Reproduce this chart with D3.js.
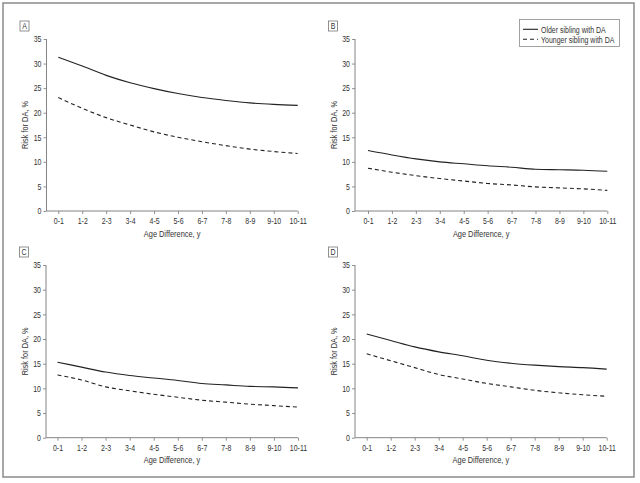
<!DOCTYPE html>
<html>
<head>
<meta charset="utf-8">
<script src="https://cdn.jsdelivr.net/npm/d3@7"></script>
<style>
  html, body { margin: 0; padding: 0; background: #fff; }
  svg { display: block; }
  text { font-family: "Liberation Sans", Arial, sans-serif; fill: #333; }
</style>
</head>
<body>
<svg id="chart" width="640" height="483"></svg>
<script>
const categories = ["0-1","1-2","2-3","3-4","4-5","5-6","6-7","7-8","8-9","9-10","10-11"];
const yTicks = [0,5,10,15,20,25,30,35];
const panelLabels = ["A","B","C","D"];
const seriesNames = ["Older sibling with DA","Younger sibling with DA"];

const olderA   = [31.3,29.5,27.6,26.1,24.9,23.9,23.1,22.5,22.0,21.7,21.5];
const youngerA = [23.1,20.9,19.0,17.5,16.1,15.0,14.1,13.3,12.6,12.1,11.7];
const olderB   = [12.3,11.4,10.6,10.0,9.6,9.2,8.9,8.5,8.4,8.3,8.1];
const youngerB = [8.7,7.9,7.2,6.6,6.1,5.6,5.3,4.9,4.7,4.5,4.2];
const olderC   = [15.3,14.3,13.3,12.6,12.1,11.6,11.0,10.7,10.4,10.3,10.1];
const youngerC = [12.7,11.7,10.3,9.5,8.8,8.2,7.6,7.2,6.8,6.5,6.2];
const olderD   = [21.0,19.7,18.4,17.4,16.6,15.7,15.1,14.7,14.4,14.2,13.9];
const youngerD = [17.0,15.6,14.2,12.8,11.9,11.0,10.3,9.6,9.1,8.7,8.4];

const panelData = [[olderA,youngerA],[olderB,youngerB],[olderC,youngerC],[olderD,youngerD]];

const svg = d3.select("#chart");

// outer frame
svg.append("rect").attr("x",3).attr("y",3).attr("width",631).attr("height",474)
  .attr("fill","none").attr("stroke","#8a8a8a").attr("stroke-width",1.5);

const layout = [
  {axisX:46.5, x0:58.3, x1:297.7, yBot:211, yTop:39},
  {axisX:355, x0:368, x1:607.3, yBot:211, yTop:39},
  {axisX:46, x0:57.5, x1:298, yBot:437.7, yTop:265},
  {axisX:355, x0:366.7, x1:606.7, yBot:437.7, yTop:265}
];

const dashes = [null, "4,3"];

layout.forEach((L, pi) => {
  const g = svg.append("g");
  const x = d3.scalePoint().domain(categories).range([L.x0, L.x1]);
  const y = d3.scaleLinear().domain([0,35]).range([L.yBot, L.yTop]);

  const yAxis = g.append("g").attr("transform",`translate(${L.axisX},0)`)
    .call(d3.axisLeft(y).tickValues(yTicks).tickSize(3).tickPadding(2).tickSizeOuter(0));
  const xAxis = g.append("g").attr("transform",`translate(0,${L.yBot})`)
    .call(d3.axisBottom(x).tickSize(3).tickPadding(4).tickSizeOuter(0));
  [yAxis, xAxis].forEach(a => {
    a.select(".domain").remove();
    a.selectAll("line").attr("stroke","#777").attr("stroke-width",0.8);
    a.selectAll("text").attr("font-size",8.5).attr("fill","#333")
      .style("font-family",'"Liberation Sans", Arial, sans-serif');
  });
  g.append("line").attr("x1",L.axisX).attr("x2",L.axisX).attr("y1",L.yTop).attr("y2",L.yBot)
    .attr("stroke","#777").attr("stroke-width",0.9);
  g.append("line").attr("x1",L.axisX).attr("x2",L.x1).attr("y1",L.yBot).attr("y2",L.yBot)
    .attr("stroke","#777").attr("stroke-width",0.9);

  g.append("text").attr("x",(L.axisX+L.x1)/2).attr("y",L.yBot+25.5)
    .attr("text-anchor","middle").attr("font-size",9).text("Age Difference, y");
  g.append("text").attr("transform",`translate(${L.axisX-18.5},${(L.yTop+L.yBot)/2}) rotate(-90)`)
    .attr("text-anchor","middle").attr("font-size",9).text("Risk for DA, %");

  const bx = L.axisX - 26.5, by = L.yTop - 18;
  g.append("rect").attr("x",bx).attr("y",by).attr("width",9).attr("height",10)
    .attr("fill","#fff").attr("stroke","#777").attr("stroke-width",0.8);
  g.append("text").attr("x",bx+4.5).attr("y",by+8.3).attr("text-anchor","middle")
    .attr("font-size",8.5).text(panelLabels[pi]);

  const line = d3.line().x((d,i)=>x(categories[i])).y(d=>y(d)).curve(d3.curveMonotoneX);
  panelData[pi].forEach((vals, si) => {
    g.append("path").datum(vals).attr("d",line).attr("fill","none")
      .attr("stroke","#222").attr("stroke-width",1.1)
      .attr("stroke-dasharray",dashes[si]);
  });
});

// legend
const lg = svg.append("g");
lg.append("rect").attr("x",519.5).attr("y",19.5).attr("width",100).attr("height",27)
  .attr("fill","#fff").attr("stroke","#8a8a8a").attr("stroke-width",0.8);
seriesNames.forEach((name, i) => {
  const yy = 29.3 + i*10;
  lg.append("line").attr("x1",523).attr("x2",538).attr("y1",yy).attr("y2",yy)
    .attr("stroke","#222").attr("stroke-width",1.1).attr("stroke-dasharray",dashes[i]);
  lg.append("text").attr("x",541).attr("y",yy+3.2).attr("font-size",8.5).text(name);
});

// condense text to mimic a narrow sans face
svg.selectAll("text").each(function() {
  const w = this.getComputedTextLength();
  d3.select(this).attr("textLength", (w * 0.82).toFixed(2)).attr("lengthAdjust", "spacingAndGlyphs");
});
</script>
</body>
</html>
